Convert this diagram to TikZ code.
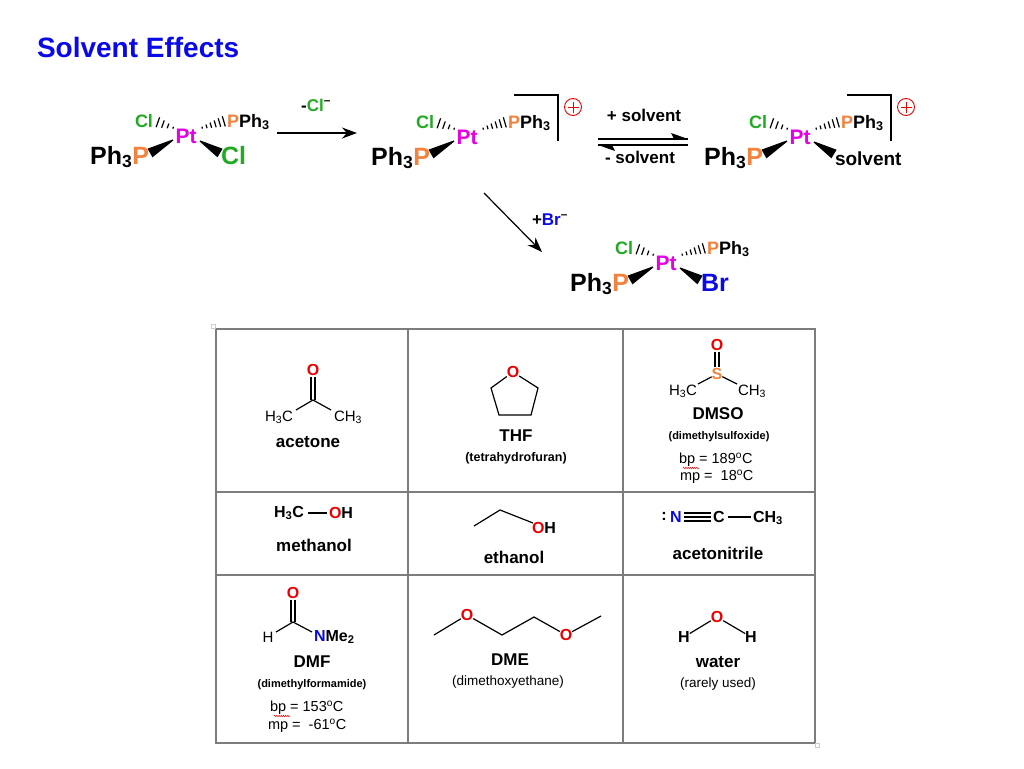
\documentclass[tikz,border=0pt]{standalone}
\usepackage{fontspec}
\setmainfont{Liberation Sans}
\usetikzlibrary{arrows.meta,calc,decorations.pathmorphing}
\definecolor{clg}{RGB}{34,170,34}
\definecolor{porg}{RGB}{242,130,60}
\definecolor{ptm}{RGB}{230,0,230}
\definecolor{brb}{RGB}{10,10,225}
\definecolor{ored}{RGB}{235,0,0}
\definecolor{titleb}{RGB}{10,10,230}
\definecolor{gridg}{RGB}{125,125,125}
\newcommand\fs[1]{\fontsize{#1}{#1}\selectfont}
\newcommand\degc{\textsuperscript{o}C}
\tikzset{
 every node/.style={inner sep=0pt,outer sep=0pt},
 sm/.style={font=\fs{18}\bfseries},
 bigl/.style={font=\fs{25}\bfseries},
 ptl/.style={font=\fs{21}\bfseries,text=ptm},
 lab/.style={font=\fs{17}\bfseries},
 bond/.style={line width=1.2pt},
 tline/.style={draw=gridg,line width=1.3pt},
 rxn/.style={line width=1.2pt,-{Stealth[length=15pt,width=11pt]}},
 eqline/.style={line width=1.2pt},
 nm/.style={font=\fs{17}\bfseries},
 atm/.style={font=\fs{16}\bfseries},
 atms/.style={font=\fs{15}},
 redO/.style={font=\fs{16}\bfseries,text=ored},
 subt/.style={font=\fs{12.5}\bfseries},
 subs/.style={font=\fs{11}\bfseries},
 subr/.style={font=\fs{13.5}},
 bpmp/.style={font=\fs{14.5},anchor=west},
 squig/.style={draw=ored,line width=0.5pt,decorate,decoration={snake,amplitude=0.7pt,segment length=2.2pt}},
}
\newcommand\hwedge[3]{%
 \foreach \i in {0,...,#3}{%
  \pgfmathsetmacro\wt{0.05+0.9*\i/#3}%
  \pgfmathsetmacro\hw{0.8+4.7*\wt}%
  \draw[line width=1.2pt] ($#1!\wt!#2!\hw pt!90:#2$) -- ($#1!\wt!#2!\hw pt!-90:#2$);
 }}
\newcommand\swedge[2]{\fill ($#1!0.6pt!90:#2$) -- ($#1!0.6pt!-90:#2$) -- ($#2!5pt!90:#1$) -- ($#2!5pt!-90:#1$) -- cycle;}
% #1 prefix, #2 position, #3 bottom-right ligand, #4 bracket flag, #5 right wedge flag
\newcommand\ptcomplex[5]{%
\begin{scope}[shift={#2}]
 \node[ptl,anchor=base] (#1pt) at (0,8) {Pt};
 \node[sm,text=clg,anchor=base] (#1cl) at (-42,-8) {Cl};
 \node[sm,anchor=base west] (#1pp) at (41,-8) {\textcolor{porg}{P}Ph\textsubscript{3}};
 \node[bigl,anchor=base east] (#1pl) at (-37,29) {Ph\textsubscript{3}\textcolor{porg}{P}};
 \coordinate (#1a1) at (-12,-7); \coordinate (#1a2) at (-29,-13);
 \coordinate (#1b1) at (15,-7); \coordinate (#1b2) at (39,-14);
 \coordinate (#1c1) at (-13,5); \coordinate (#1c2) at (-36,18);
 \hwedge{(#1a1)}{(#1a2)}{3}
 \hwedge{(#1b1)}{(#1b2)}{5}
 \swedge{(#1c1)}{(#1c2)}
 \ifnum#5=1
  \node[anchor=base west] (#1x) at (35,29) {#3};
  \coordinate (#1d1) at (14,6); \coordinate (#1d2) at (34,18);
  \swedge{(#1d1)}{(#1d2)}
 \fi
 \ifnum#4=1
  \coordinate (#1k1) at (47,-41); \coordinate (#1k2) at (91,-41); \coordinate (#1k3) at (91,5);
  \draw[line width=1.1pt] (#1k1) -- (#1k2) -- (#1k3);
  \node[draw=ored,circle,minimum size=17pt,line width=0.9pt] (#1chg) at (106,-29) {};
  \draw[ored,line width=0.9pt] ($(#1chg.center)+(-5.5,0)$) -- ($(#1chg.center)+(5.5,0)$)
     ($(#1chg.center)+(0,-5.5)$) -- ($(#1chg.center)+(0,5.5)$);
 \fi
\end{scope}}
\begin{document}
\begin{tikzpicture}[x=1pt,y=-1pt]
\useasboundingbox (0,0) rectangle (1024,768);
\fill[white] (0,0) rectangle (1024,768);
\node[font=\fs{28}\bfseries,text=titleb,anchor=base west] (title) at (37,58) {Solvent Effects};

% complexes
\ptcomplex{c1}{(186,135)}{\fs{25}\bfseries\color{clg}Cl}{0}{1}
\ptcomplex{c2}{(467,136)}{}{1}{0}
\ptcomplex{c3}{(800,136)}{\fs{19}\bfseries solvent}{1}{1}
\ptcomplex{c4}{(666,262)}{\fs{25}\bfseries\color{brb}Br}{0}{1}

% reaction arrows
\coordinate (r1s) at (277,133); \coordinate (r1e) at (357,133);
\draw[rxn] (r1s) -- (r1e);
\node[lab,anchor=base] (r1l) at (316,111) {-\textcolor{clg}{Cl}\textsuperscript{–}};
\coordinate (e1s) at (598,139); \coordinate (e1e) at (688,139);
\coordinate (e2s) at (688,145); \coordinate (e2e) at (598,145);
\draw[eqline] (e1s) -- (e1e);
\fill (e1e) -- ($(e1e)+(-17,-6)$) -- ($(e1e)+(-14,0)$) -- cycle;
\draw[eqline] (e2s) -- (e2e);
\fill (e2e) -- ($(e2e)+(17,6)$) -- ($(e2e)+(14,0)$) -- cycle;
\node[lab,anchor=base] (e1l) at (644,121) {+ solvent};
\node[lab,anchor=base] (e2l) at (640,163) {- solvent};
\coordinate (r2s) at (484,193); \coordinate (r2e) at (542,252);
\draw[rxn] (r2s) -- (r2e);
\node[lab,anchor=base west] (r2l) at (532,225) {+\textcolor{brb}{Br}\textsuperscript{–}};

% table
\draw[tline] (216,329) rectangle (815,743);
\draw[tline] (408,329) -- (408,743) (623,329) -- (623,743)
  (216,492) -- (815,492) (216,575) -- (815,575);
\draw[gray!40,line width=0.6pt] (211,324) rectangle (215,328);
\draw[gray!40,line width=0.6pt] (815,743) rectangle (819,747);

% acetone
\node[redO] (acO) at (313,370) {O};
\coordinate (acC) at (313,400);
\coordinate (acL) at (296,410); \coordinate (acR) at (331,410);
\draw[bond] ($(acO.south)+(-2,1)$) -- ($(acC)+(-2,0)$) ($(acO.south)+(2,1)$) -- ($(acC)+(2,0)$);
\draw[bond] (acL) -- (acC) -- (acR);
\node[atms] (acH) at (279,417) {H\textsubscript{3}C};
\node[atms] (acM) at (348,417) {CH\textsubscript{3}};
\node[nm] (acN) at (308,442) {acetone};

% THF
\node[redO] (thO) at (513,372) {O};
\coordinate (th1) at (491,388); \coordinate (th2) at (499,415);
\coordinate (th3) at (531,415); \coordinate (th4) at (538,388);
\draw[bond] (thO) -- (th1) -- (th2) -- (th3) -- (th4) -- (thO);
\node[nm] (thN) at (516,436) {THF};
\node[subt] (thS) at (516,458) {(tetrahydrofuran)};

% DMSO
\node[redO] (dsO) at (717,345) {O};
\node[atm,text=porg] (dsS) at (717,374) {S};
\draw[bond] ($(dsO.south)+(-2,1)$) -- ($(dsS.north)+(-2,-1)$) ($(dsO.south)+(2,1)$) -- ($(dsS.north)+(2,-1)$);
\coordinate (dsL) at (698,384); \coordinate (dsR) at (737,384);
\draw[bond] (dsL) -- (dsS) -- (dsR);
\node[atms] (dsH) at (683,391) {H\textsubscript{3}C};
\node[atms] (dsM) at (752,391) {CH\textsubscript{3}};
\node[nm] (dsN) at (718,414) {DMSO};
\node[subs] (dsT) at (719,437) {(dimethylsulfoxide)};
\node[bpmp] (dsB) at (679,460) {bp = 189\degc};
\node[bpmp] (dsP) at (680,477) {mp = \ 18\degc};
\coordinate (dsq1) at (683,468); \coordinate (dsq2) at (699,468);
\draw[squig] (dsq1) -- (dsq2);

% methanol
\node[atm,anchor=east] (meC) at (304,513) {H\textsubscript{3}C};
\node[atm,anchor=west] (meO) at (329,513) {\textcolor{ored}{O}H};
\coordinate (meb1) at (308,513); \coordinate (meb2) at (327,513);
\draw[bond] (meb1) -- (meb2);
\node[nm] (meN) at (314,545) {methanol};

% ethanol
\coordinate (et1) at (474,526); \coordinate (et2) at (500,510);
\node[atm,anchor=west] (etO) at (532,528) {\textcolor{ored}{O}H};
\draw[bond] (et1) -- (et2) -- ($(etO.west)+(1,-5)$);
\node[nm] (etN) at (514,557) {ethanol};

% acetonitrile
\node[atm] (anD) at (664,516) {:};
\node[atm,text=brb] (anN) at (676,517) {N};
\node[atm] (anC) at (719,517) {C};
\node[atm,anchor=west] (anM) at (753,518) {CH\textsubscript{3}};
\draw[bond] ($(anN.east)+(2,-4)$) -- ($(anC.west)+(-2,-4)$)
            ($(anN.east)+(2,0)$) -- ($(anC.west)+(-2,0)$)
            ($(anN.east)+(2,4)$) -- ($(anC.west)+(-2,4)$);
\draw[bond] ($(anC.east)+(3,0)$) -- ($(anM.west)+(-2,-1)$);
\node[nm] (anL) at (718,553) {acetonitrile};

% DMF
\node[redO] (dfO) at (293,593) {O};
\coordinate (dfC) at (293,622);
\node[atms] (dfH) at (268,637) {H};
\node[atm,anchor=west] (dfN) at (314,637) {\textcolor{brb}{N}Me\textsubscript{2}};
\draw[bond] ($(dfO.south)+(-2,1)$) -- ($(dfC)+(-2,0)$) ($(dfO.south)+(2,1)$) -- ($(dfC)+(2,0)$);
\coordinate (dfHL) at (276,632); \coordinate (dfNR) at (312,632);
\draw[bond] (dfHL) -- (dfC) -- (dfNR);
\node[nm] (dfL) at (312,662) {DMF};
\node[subs] (dfT) at (312,685) {(dimethylformamide)};
\node[bpmp] (dfB) at (270,708) {bp = 153\degc};
\node[bpmp] (dfP) at (268,726) {mp = \ -61\degc};
\coordinate (dfq1) at (274,716); \coordinate (dfq2) at (290,716);
\draw[squig] (dfq1) -- (dfq2);

% DME
\coordinate (dm1) at (434,635);
\node[redO] (dmO1) at (467,615) {O};
\coordinate (dm2) at (502,635); \coordinate (dm3) at (534,617);
\node[redO] (dmO2) at (566,635) {O};
\coordinate (dm4) at (601,616);
\draw[bond] (dm1) -- (dmO1) -- (dm2) -- (dm3) -- (dmO2) -- (dm4);
\node[nm] (dmL) at (510,660) {DME};
\node[subr] (dmT) at (508,682) {(dimethoxyethane)};

% water
\node[redO] (waO) at (717,617) {O};
\node[atm] (waH1) at (684,637) {H};
\node[atm] (waH2) at (751,637) {H};
\draw[bond] (waH1) -- (waO) -- (waH2);
\node[nm] (waL) at (718,662) {water};
\node[subr] (waT) at (718,684) {(rarely used)};
\end{tikzpicture}
\end{document}
